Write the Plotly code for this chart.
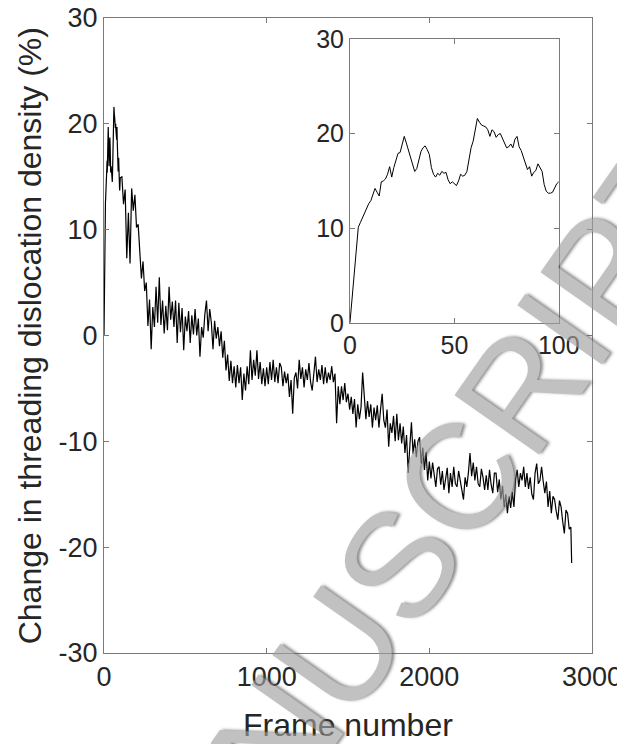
import plotly.graph_objects as go

# ---- data ----
inset_frames = list(range(0, 101))
inset_values = [
    0.0, 2.5, 5.0, 7.6, 10.1, 10.6, 11.1, 11.5, 12.0, 12.6,
    12.9, 13.6, 14.2, 13.8, 13.4, 14.9, 15.0, 15.2, 15.7, 16.5,
    15.4, 16.4, 17.2, 17.9, 18.0, 19.0, 19.7, 19.0, 18.2, 17.5,
    16.6, 16.0, 16.3, 17.3, 18.1, 18.5, 18.7, 18.3, 17.8, 16.4,
    15.7, 15.4, 15.8, 15.6, 16.0, 15.8, 15.9, 15.1, 14.7, 14.9,
    14.7, 14.5, 15.0, 15.7, 15.5, 15.6, 16.0, 17.2, 18.5, 19.2,
    20.3, 21.6, 21.2, 20.9, 20.8, 20.7, 20.4, 19.7, 20.4, 20.2,
    19.6, 19.9, 20.0, 19.5, 19.0, 18.5, 18.6, 18.9, 18.5, 19.4,
    19.7, 18.6, 18.2, 17.6, 16.8, 16.2, 16.5, 15.5, 15.9, 16.1,
    16.8, 16.4, 16.0, 14.6, 13.9, 13.7, 13.7, 13.8, 14.2, 14.7,
    14.9,
]

tail_frames = list(range(110, 2871, 10)) + [2875]
tail_values = [
    15.0, 12.4, 13.8, 7.3, 11.6, 6.8, 13.9, 11.8, 13.3, 10.2,            # 110-200
    10.5, 8.4, 5.4, 7.0, 4.2, 5.0, 0.9, 3.4, -1.3, 2.7,                  # 210-300
    0.8, 4.6, 1.2, 5.5, 1.0, 3.3, 0.2, 2.8, 0.5, 4.6,                    # 310-400
    1.5, 3.2, 0.8, 3.3, -0.7, 3.1, 0.3, 2.6, -1.4, 1.8,                  # 410-500
    0.4, 2.3, -0.7, 1.9, 0.1, 2.5, 0.0, 1.6, -2.0, 0.8,                  # 510-600
    -0.2, 2.0, 3.3, 0.4, 2.5, 1.2, -1.3, 1.4, -0.3, 0.8,                 # 610-700
    -1.0, 0.4, -2.1, -0.5, -3.3, -1.8, -4.3, -2.4, -4.5, -2.9,           # 710-800
    -4.9, -2.8, -4.5, -3.0, -6.1, -3.6, -5.2, -2.9, -4.6, -1.4,          # 810-900
    -4.2, -2.3, -3.8, -1.4, -4.1, -2.5, -4.6, -3.1, -4.8, -3.0,          # 910-1000
    -4.6, -2.5, -4.2, -2.3, -4.4, -3.0, -4.5, -2.6, -3.0, -4.8,          # 1010-1100
    -3.4, -4.5, -3.6, -5.8, -4.2, -7.4, -4.0, -3.5, -5.0, -2.3,          # 1110-1200
    -4.1, -3.0, -4.9, -3.2, -4.2, -2.6, -4.4, -5.2, -3.3, -2.0,          # 1210-1300
    -4.4, -3.2, -4.2, -2.8, -4.6, -3.0, -4.5, -3.5, -4.2, -2.9,          # 1310-1400
    -4.4, -3.6, -8.3, -4.8, -6.5, -4.8, -6.1, -4.5, -6.3, -5.5,          # 1410-1500
    -7.0, -5.8, -7.4, -6.0, -8.7, -6.5, -7.9, -6.8, -3.5, -6.1,          # 1510-1600
    -7.9, -6.2, -7.7, -6.5, -8.7, -6.8, -8.0, -6.6, -8.7, -7.0,          # 1610-1700
    -5.5, -8.0, -8.7, -7.0, -10.5, -8.3, -9.2, -7.6, -10.0, -7.4,        # 1710-1800
    -9.9, -8.3, -10.2, -8.6, -11.1, -9.4, -13.0, -10.5, -8.2, -11.2,     # 1810-1900
    -9.8, -11.5, -10.0, -9.6, -12.1, -10.6, -12.7, -11.0, -13.7, -11.9,  # 1910-2000
    -13.5, -12.0, -13.0, -14.3, -12.6, -12.4, -14.1, -12.8, -14.6, -13.4,  # 2010-2100
    -12.5, -14.9, -13.0, -14.3, -12.4, -14.0, -14.3, -12.8, -13.7, -15.0,  # 2110-2200
    -15.5, -13.4, -14.3, -13.0, -11.1, -13.3, -12.0, -13.7, -12.4, -14.0,  # 2210-2300
    -14.3, -12.6, -13.4, -14.6, -13.2, -14.6, -12.7, -14.1, -14.9, -13.0,  # 2310-2400
    -13.0, -14.8, -13.6, -15.5, -14.2, -16.2, -15.0, -16.8, -15.2, -16.3,  # 2410-2500
    -14.8, -16.2, -13.6, -12.7, -14.3, -13.0, -13.7, -12.4, -14.3, -13.0,  # 2510-2600
    -14.5, -13.4, -15.0, -15.5, -13.0, -12.1, -14.0, -13.7, -12.4, -13.8,  # 2610-2700
    -14.9, -13.8, -16.2, -14.7, -16.8, -15.2, -15.5, -16.6, -17.4, -15.6,  # 2710-2800
    -16.2, -17.6, -18.7, -16.5, -16.8, -18.3, -18.1, -21.5,                # 2810-2875
]
assert len(tail_frames) == len(tail_values), (len(tail_frames), len(tail_values))

main_frames = inset_frames + tail_frames
main_values = inset_values + tail_values

main_xticks = [0, 1000, 2000, 3000]
main_yticks = [-30, -20, -10, 0, 10, 20, 30]
main_ylabels = ["-30", "-20", "-10", "0", "10", "20", "30"]
inset_xticks = [0, 50, 100]
inset_yticks = [0, 10, 20, 30]

x_title = "Frame number"
y_title = "Change in threading dislocation density (%)"
watermark = "MANUSCRIPT"

AXIS_COLOR = "#7a7a7a"
TEXT_COLOR = "#262626"
FONT = "Liberation Sans, Arial, sans-serif"

fig = go.Figure()
fig.add_trace(go.Scatter(x=main_frames, y=main_values, mode="lines",
                         line=dict(color="black", width=1.2), xaxis="x", yaxis="y",
                         showlegend=False, hoverinfo="skip"))
fig.add_trace(go.Scatter(x=inset_frames, y=inset_values, mode="lines",
                         line=dict(color="black", width=1), xaxis="x2", yaxis="y2",
                         showlegend=False, hoverinfo="skip"))

common = dict(showgrid=False, zeroline=False, showline=True, linecolor=AXIS_COLOR,
              linewidth=1, mirror="ticks", ticks="inside", ticklen=5,
              tickcolor=AXIS_COLOR, tickwidth=1, automargin=False,
              ticklabeloverflow="allow")

# the page body adds an 8px offset, so the figure is 8px smaller and margins shifted
fig.update_layout(
    width=617, height=736,
    margin=dict(l=96, r=33, t=10, b=91),
    paper_bgcolor="white", plot_bgcolor="rgba(0,0,0,0)",
    font=dict(family=FONT, color=TEXT_COLOR, size=27),
    xaxis=dict(range=[0, 3000], tickvals=main_xticks, domain=[0, 1],
               tickfont=dict(size=27), **common),
    yaxis=dict(range=[-30, 30], tickvals=main_yticks, ticktext=main_ylabels,
               domain=[0, 1], tickfont=dict(size=27), **common),
    xaxis2=dict(range=[0, 100], tickvals=inset_xticks, domain=[0.504, 0.932],
                anchor="y2", tickfont=dict(size=25), **common),
    yaxis2=dict(range=[0, 30], tickvals=inset_yticks, domain=[0.52, 0.967],
                anchor="x2", tickfont=dict(size=25), **common),
)

# axis titles
fig.add_annotation(text=x_title, xref="paper", yref="paper", x=0.5, y=-0.1134,
                   xanchor="center", yanchor="middle", showarrow=False,
                   font=dict(family=FONT, size=32, color=TEXT_COLOR))
fig.add_annotation(text=y_title, xref="paper", yref="paper", x=-0.152, y=0.5,
                   xanchor="center", yanchor="middle", showarrow=False,
                   textangle=-90,
                   font=dict(family=FONT, size=32, color=TEXT_COLOR))

# watermark
fig.add_annotation(
    text=watermark, xref="paper", yref="paper", x=0.608, y=0.145,
    xanchor="center", yanchor="middle",
    showarrow=False, textangle=-55, opacity=0.65,
    font=dict(family=FONT, size=150, color="#a0a0a0",
              shadow="2px 2px 3px #555555"),
)

fig.write_html("out.html")
